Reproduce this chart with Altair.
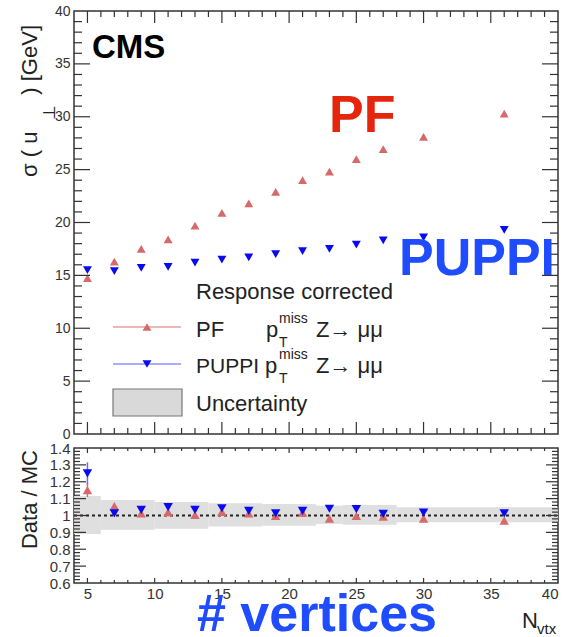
import altair as alt
import pandas as pd

FONT = "Liberation Sans"

# ---------------- data ----------------
nvtx = [5, 7, 9, 11, 13, 15, 17, 19, 21, 23, 25, 27, 30, 36]
pf_sigma = [14.75, 16.3, 17.5, 18.4, 19.7, 20.9, 21.8, 22.9, 24.0, 24.8, 26.0, 26.95, 28.1, 30.3]
puppi_sigma = [15.5, 15.4, 15.7, 15.8, 16.2, 16.5, 16.7, 17.0, 17.3, 17.5, 17.9, 18.3, 18.6, 19.3]
pf_ratio = [1.15, 1.056, 1.013, 1.02, 1.003, 1.022, 1.013, 0.997, 1.017, 0.981, 0.997, 0.993, 0.981, 0.969]
puppi_ratio = [1.25, 1.013, 1.033, 1.049, 1.033, 1.043, 1.027, 1.013, 1.027, 1.04, 1.038, 1.009, 1.017, 1.013]
pf_ratio_err = [0.04, 0.01, 0.008, 0.008, 0.008, 0.008, 0.008, 0.008, 0.008, 0.008, 0.008, 0.008, 0.008, 0.01]
puppi_ratio_err = [0.065, 0.01, 0.008, 0.008, 0.008, 0.008, 0.008, 0.008, 0.008, 0.008, 0.008, 0.008, 0.008, 0.01]

band_x1 = [4, 6, 10, 14, 18, 22, 24, 28]
band_x2 = [6, 10, 14, 18, 22, 24, 28, 40]
band_hi = [1.115, 1.092, 1.08, 1.073, 1.068, 1.058, 1.062, 1.049]
band_lo = [0.89, 0.916, 0.922, 0.935, 0.94, 0.95, 0.945, 0.96]

x_major = [5, 10, 15, 20, 25, 30, 35, 40]
x_minor = [v for v in range(5, 40) if v % 5]
sig_major = [0, 5, 10, 15, 20, 25, 30, 35, 40]
sig_minor = [v for v in range(1, 40) if v % 5]
rat_major = [0.6, 0.7, 0.8, 0.9, 1.0, 1.1, 1.2, 1.3, 1.4]
rat_minor = [round(0.6 + 0.02 * i, 2) for i in range(1, 40) if i % 5]

W, H1, H2 = 484, 423, 135
PF_C = "#d66a6a"
PU_C = "#0a0af0"
TXT = "#222222"

xs = alt.Scale(domain=[4, 40], nice=False, zero=False)
ys1 = alt.Scale(domain=[0, 40], nice=False, zero=False)
ys2 = alt.Scale(domain=[0.6, 1.4], nice=False, zero=False)

main = pd.DataFrame({
    "nvtx": nvtx, "pf": pf_sigma, "puppi": puppi_sigma,
    "pf_r": pf_ratio, "pu_r": puppi_ratio,
    "pf_lo": [a - b for a, b in zip(pf_ratio, pf_ratio_err)],
    "pf_hi": [a + b for a, b in zip(pf_ratio, pf_ratio_err)],
    "pu_lo": [a - b for a, b in zip(puppi_ratio, puppi_ratio_err)],
    "pu_hi": [a + b for a, b in zip(puppi_ratio, puppi_ratio_err)],
})
band = pd.DataFrame({"x1": band_x1, "x2": band_x2, "lo": band_lo, "hi": band_hi})

# axes (the same object is used in every layer that carries the channel)
y1_axis = alt.Axis(values=sig_major, labelFont=FONT, labelFontSize=14, labelColor="#333333",
                   labelPadding=4, ticks=False, tickSize=0, domain=False, grid=False, title=None,
                   labelOverlap=False)
x_axis = alt.Axis(values=x_major, labelFont=FONT, labelFontSize=15, labelColor="#333333",
                  labelPadding=3, ticks=False, tickSize=0, domain=False, grid=False, title=None,
                  labelOverlap=False)
y2_axis = alt.Axis(values=rat_major, labelFont=FONT, labelFontSize=15, labelColor="#333333",
                   labelPadding=4, ticks=False, tickSize=0, domain=False, grid=False, title=None,
                   labelExpr="datum.value == 1 ? '1' : format(datum.value, '.1f')", labelOverlap=False)


def tick_layer(vals, side, scale, axis, length, w, h):
    df = pd.DataFrame({"v": vals})
    c = alt.Chart(df).mark_rule(color="#333333", strokeWidth=1.2)
    if side == "left":
        return c.encode(y=alt.Y("v:Q", scale=scale, axis=axis), x=alt.value(0), x2=alt.value(length))
    if side == "right":
        return c.encode(y=alt.Y("v:Q", scale=scale, axis=axis), x=alt.value(w), x2=alt.value(w - length))
    if side == "top":
        return c.encode(x=alt.X("v:Q", scale=scale, axis=axis), y=alt.value(0), y2=alt.value(length))
    return c.encode(x=alt.X("v:Q", scale=scale, axis=axis), y=alt.value(h), y2=alt.value(h - length))


def label(text, x, y, size, color=TXT, weight="normal", align="left", baseline="alphabetic", angle=0):
    return alt.Chart(pd.DataFrame({"t": [text]})).mark_text(
        align=align, baseline=baseline, fontSize=size, font=FONT, fontWeight=weight,
        color=color, angle=angle
    ).encode(x=alt.value(x), y=alt.value(y), text="t:N")


one = pd.DataFrame({"a": [0]})

# ---------------- top panel ----------------
pf_top = alt.Chart(main).mark_point(shape="triangle-up", filled=True, size=80, color=PF_C, opacity=1).encode(
    x=alt.X("nvtx:Q", scale=xs, axis=None),
    y=alt.Y("pf:Q", scale=ys1, axis=y1_axis),
)
pu_top = alt.Chart(main).mark_point(shape="triangle-down", filled=True, size=80, color=PU_C, opacity=1).encode(
    x=alt.X("nvtx:Q", scale=xs, axis=None),
    y=alt.Y("puppi:Q", scale=ys1, axis=y1_axis),
)

leg_pf_line = alt.Chart(one).mark_rule(color="#eaa0a0", strokeWidth=1.5).encode(
    x=alt.value(39), x2=alt.value(107), y=alt.value(316))
leg_pf_pt = alt.Chart(one).mark_point(shape="triangle-up", filled=True, size=80, color=PF_C, opacity=1).encode(
    x=alt.value(73), y=alt.value(316))
leg_pu_line = alt.Chart(one).mark_rule(color="#9090ff", strokeWidth=1.5).encode(
    x=alt.value(39), x2=alt.value(107), y=alt.value(353))
leg_pu_pt = alt.Chart(one).mark_point(shape="triangle-down", filled=True, size=80, color=PU_C, opacity=1).encode(
    x=alt.value(73), y=alt.value(353))
leg_box = alt.Chart(one).mark_rect(fill="#d9d9d9", stroke="#777777", strokeWidth=1.2).encode(
    x=alt.value(39), x2=alt.value(108), y=alt.value(378), y2=alt.value(405))

top_layers = [
    pf_top, pu_top,
    tick_layer(sig_major[1:-1], "left", ys1, y1_axis, 16, W, H1),
    tick_layer(sig_minor, "left", ys1, y1_axis, 8, W, H1),
    tick_layer(sig_major[1:-1], "right", ys1, y1_axis, 16, W, H1),
    tick_layer(sig_minor, "right", ys1, y1_axis, 8, W, H1),
    tick_layer(x_major[:-1], "top", xs, None, 12, W, H1),
    tick_layer(x_minor, "top", xs, None, 6, W, H1),
    tick_layer(x_major[:-1], "bottom", xs, None, 12, W, H1),
    tick_layer(x_minor, "bottom", xs, None, 6, W, H1),
    leg_pf_line, leg_pf_pt, leg_pu_line, leg_pu_pt, leg_box,
    label("CMS", 18, 47, 33, color="#000000", weight="bold"),
    label("PF", 255, 121, 52, color="#e5250c", weight="bold"),
    label("PUPPI", 325, 264, 52, color="#1f4cff", weight="bold"),
    label("Response corrected", 122, 288, 22),
    label("PF", 122, 326, 22),
    label("p", 192, 326, 22),
    label("miss", 205, 312, 14),
    label("T", 205, 336, 14),
    label("Z→ μμ", 242, 326, 22),
    label("PUPPI", 122, 362, 21),
    label("p", 191, 362, 22),
    label("miss", 205, 348, 14),
    label("T", 205, 372, 14),
    label("Z→ μμ", 242, 362, 22),
    label("Uncertainty", 122, 400, 22),
    # y title: sigma ( u_perp ) [GeV]
    label("σ ( u", -44, 166, 22, align="left", baseline="middle", angle=270),
    label("⊥", -24, 101, 17, align="center", baseline="middle", angle=270),
    label(") [GeV]", -44, 14, 22, align="right", baseline="middle", angle=270),
]
top = alt.layer(*top_layers).properties(width=W, height=H1)

# ---------------- bottom panel ----------------
band_l = alt.Chart(band).mark_rect(color="#dcdcdc", opacity=0.9).encode(
    x=alt.X("x1:Q", scale=xs, axis=x_axis), x2="x2:Q",
    y=alt.Y("lo:Q", scale=ys2, axis=y2_axis), y2="hi:Q",
)
unity = alt.Chart(pd.DataFrame({"x1": [4], "x2": [40], "y": [1.0]})).mark_rule(
    color="#222222", strokeWidth=2.2, strokeDash=[3, 3]).encode(
    x=alt.X("x1:Q", scale=xs, axis=x_axis), x2="x2:Q",
    y=alt.Y("y:Q", scale=ys2, axis=y2_axis),
)
pf_err = alt.Chart(main).mark_rule(color=PF_C, strokeWidth=1.5).encode(
    x=alt.X("nvtx:Q", scale=xs, axis=x_axis),
    y=alt.Y("pf_lo:Q", scale=ys2, axis=y2_axis), y2="pf_hi:Q",
)
pu_err = alt.Chart(main).mark_rule(color="#6a6aff", strokeWidth=1.5).encode(
    x=alt.X("nvtx:Q", scale=xs, axis=x_axis),
    y=alt.Y("pu_lo:Q", scale=ys2, axis=y2_axis), y2="pu_hi:Q",
)
pf_bot = alt.Chart(main).mark_point(shape="triangle-up", filled=True, size=90, color=PF_C, opacity=1).encode(
    x=alt.X("nvtx:Q", scale=xs, axis=x_axis),
    y=alt.Y("pf_r:Q", scale=ys2, axis=y2_axis),
)
pu_bot = alt.Chart(main).mark_point(shape="triangle-down", filled=True, size=90, color=PU_C, opacity=1).encode(
    x=alt.X("nvtx:Q", scale=xs, axis=x_axis),
    y=alt.Y("pu_r:Q", scale=ys2, axis=y2_axis),
)

bottom_layers = [
    band_l, unity, pf_err, pu_err, pf_bot, pu_bot,
    tick_layer(rat_major[1:-1], "left", ys2, y2_axis, 12, W, H2),
    tick_layer(rat_minor, "left", ys2, y2_axis, 6, W, H2),
    tick_layer(rat_major[1:-1], "right", ys2, y2_axis, 12, W, H2),
    tick_layer(rat_minor, "right", ys2, y2_axis, 6, W, H2),
    tick_layer(x_major[:-1], "top", xs, x_axis, 5, W, H2),
    tick_layer(x_minor, "top", xs, x_axis, 3, W, H2),
    tick_layer(x_major[:-1], "bottom", xs, x_axis, 5, W, H2),
    tick_layer(x_minor, "bottom", xs, x_axis, 3, W, H2),
    label("Data / MC", -44, 2, 22, align="right", baseline="middle", angle=270),
    label("N", 448, 180, 22),
    label("vtx", 463, 186, 15),
    label("# vertices", 123, 183, 52, color="#1f4cff", weight="bold"),
]
bottom = alt.layer(*bottom_layers).properties(width=W, height=H2)

chart = alt.vconcat(top, bottom, spacing=14, bounds="flush").properties(
    padding={"left": 18, "top": 3, "right": 0, "bottom": 0}
).configure_view(stroke="#333333", strokeWidth=1.5)

chart.save("out.html", embed_options={"renderer": "svg", "actions": False})
